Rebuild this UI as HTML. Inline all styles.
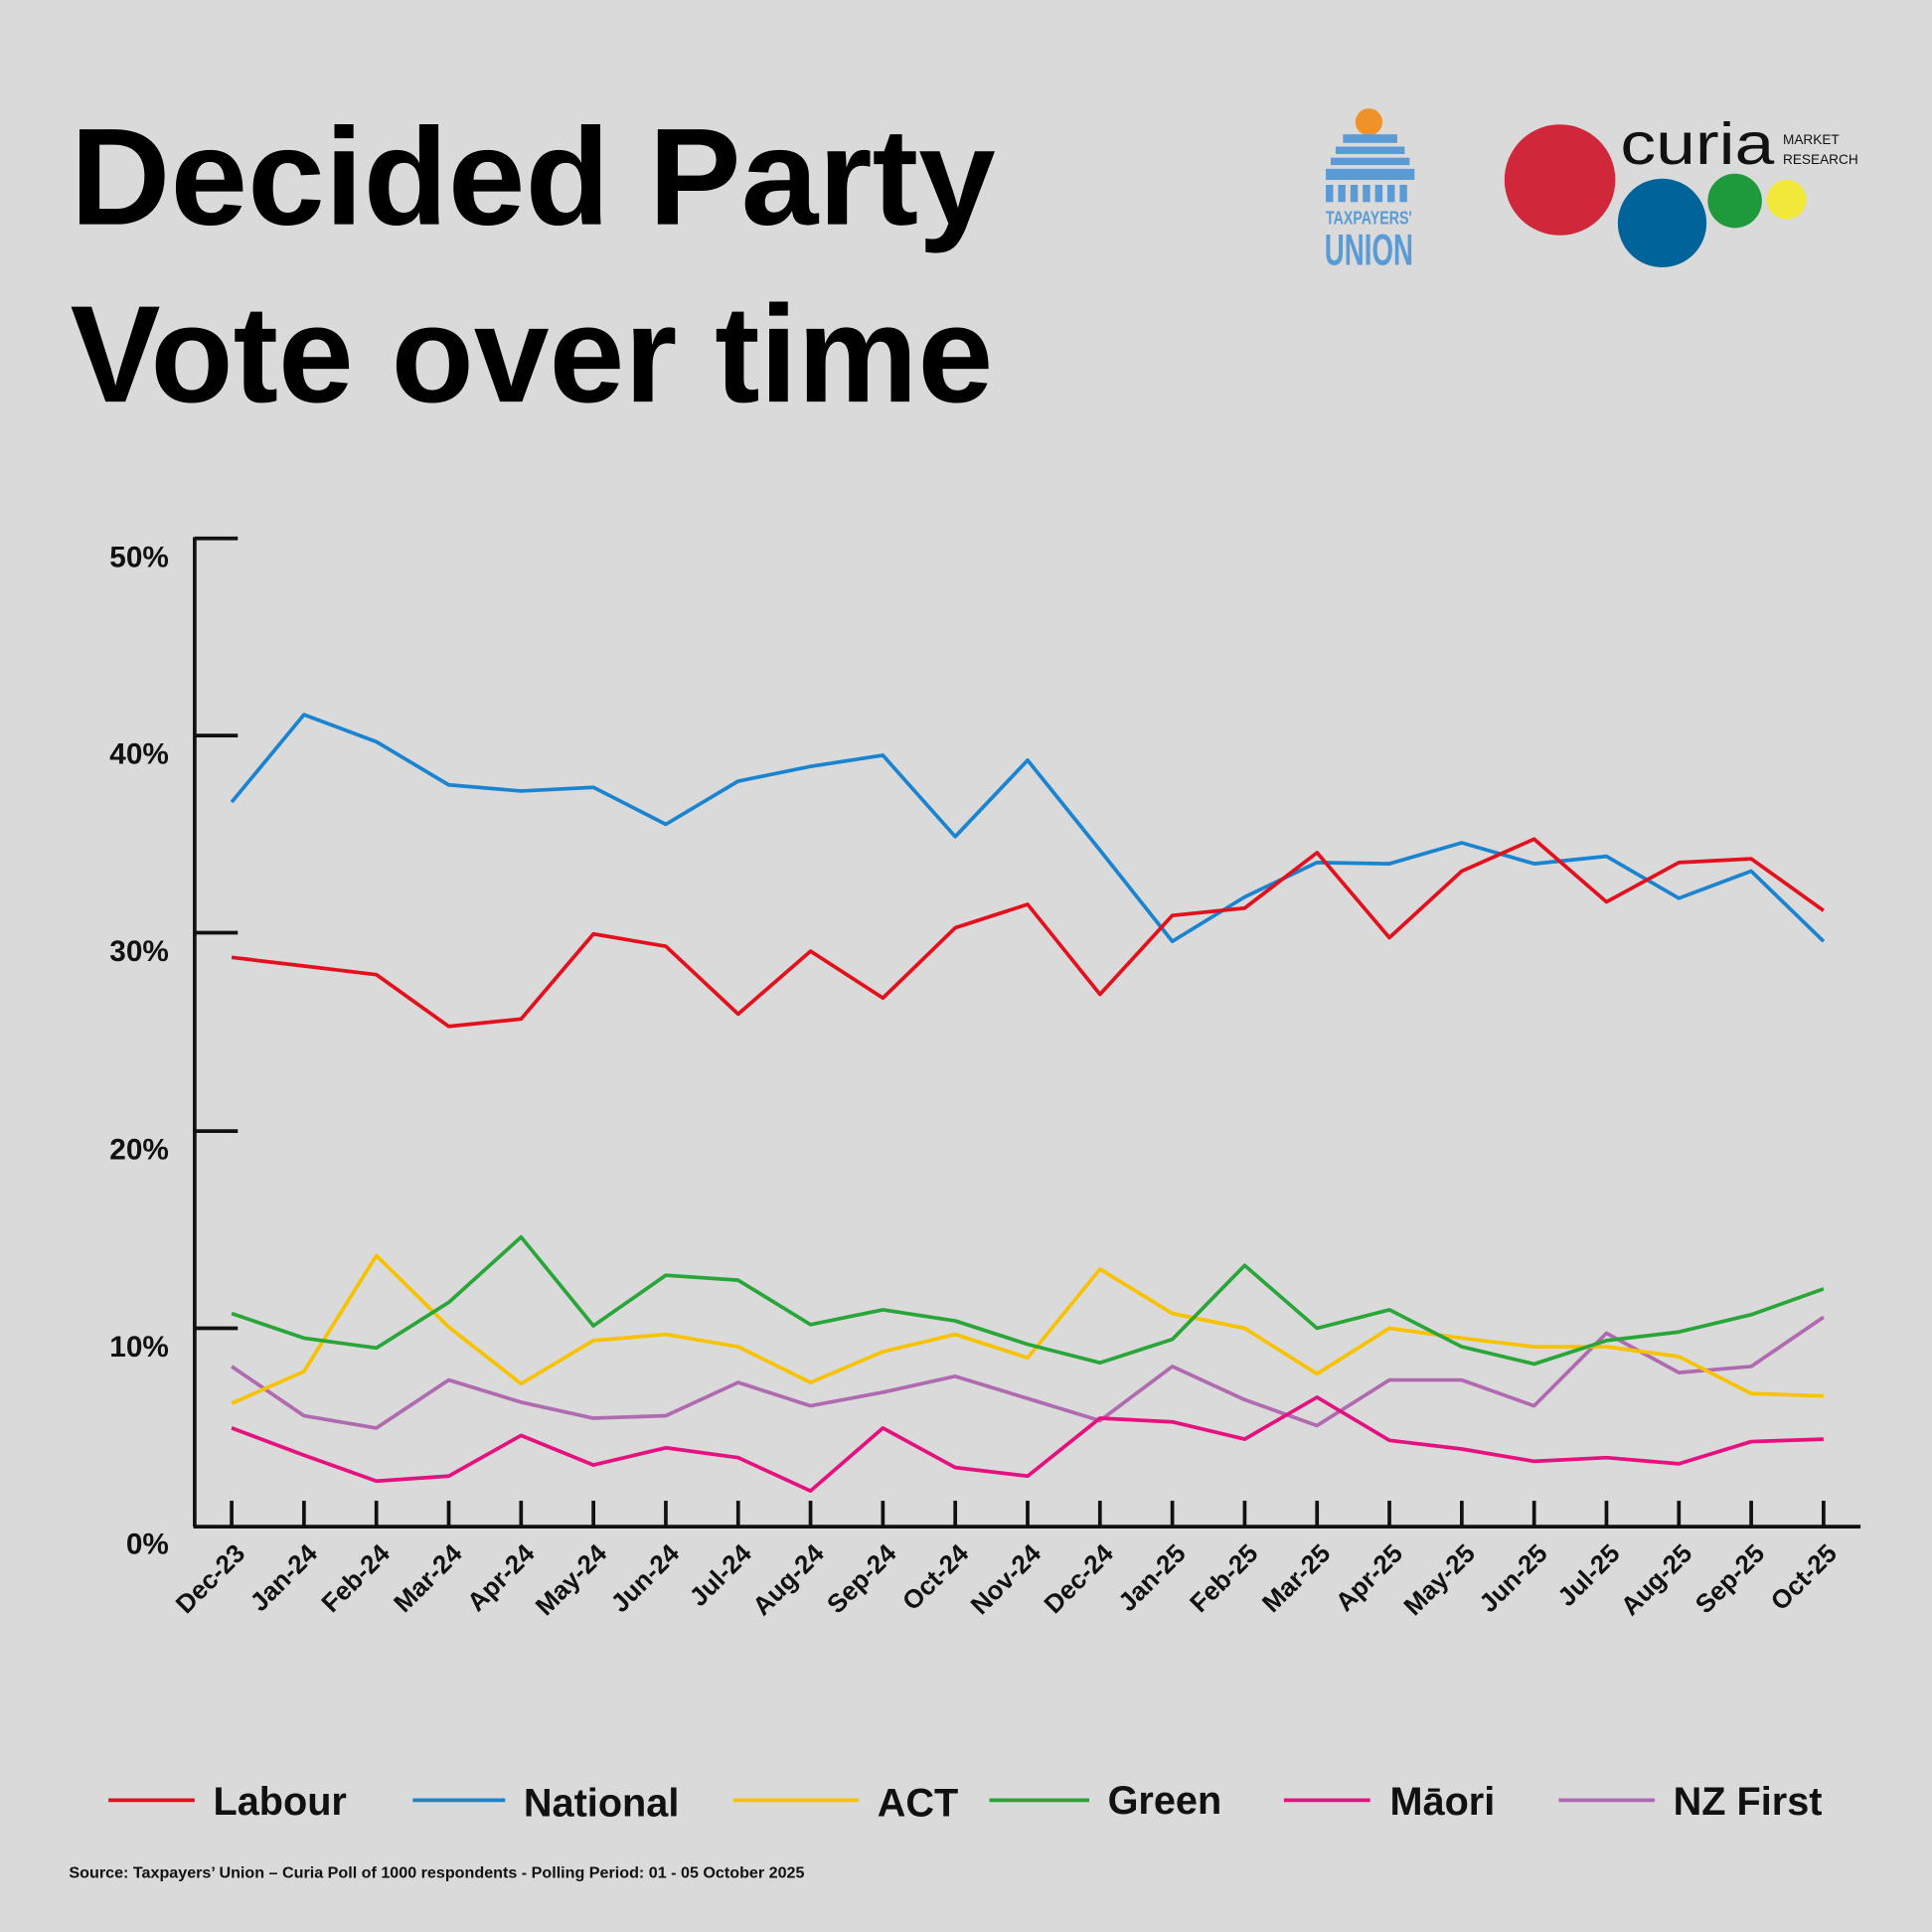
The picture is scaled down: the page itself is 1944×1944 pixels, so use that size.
<!DOCTYPE html>
<html><head><meta charset="utf-8"><style>
html,body{margin:0;padding:0;background:#dadada;}
svg{display:block;font-family:"Liberation Sans",Arial,sans-serif;}
</style></head><body>
<svg width="1944" height="1944" viewBox="0 0 1568 1568" xmlns="http://www.w3.org/2000/svg">
<rect width="1568" height="1568" fill="#dadada"/>
<text x="57" y="182" font-size="112" font-weight="bold" textLength="751" lengthAdjust="spacingAndGlyphs">Decided Party</text>
<text x="57" y="326" font-size="112" font-weight="bold" textLength="749" lengthAdjust="spacingAndGlyphs">Vote over time</text>
<!-- Taxpayers union logo -->
<g fill="#5b9bd5">
<circle cx="1111" cy="99" r="11" fill="#f0922b"/>
<rect x="1090" y="109" width="44" height="7"/>
<rect x="1084" y="119" width="56" height="6"/>
<rect x="1080" y="128" width="64" height="6"/>
<rect x="1076" y="137" width="72" height="9"/>
<g><rect x="1076" y="150" width="6" height="14"/><rect x="1086" y="150" width="6" height="14"/><rect x="1096" y="150" width="6" height="14"/><rect x="1106" y="150" width="6" height="14"/><rect x="1116" y="150" width="6" height="14"/><rect x="1126" y="150" width="6" height="14"/><rect x="1136" y="150" width="6" height="14"/></g>
<text x="1111" y="182" font-size="15" font-weight="bold" text-anchor="middle" textLength="70" lengthAdjust="spacingAndGlyphs">TAXPAYERS'</text>
<text x="1111" y="215" font-size="36" font-weight="bold" text-anchor="middle" textLength="72" lengthAdjust="spacingAndGlyphs">UNION</text>
</g>
<!-- curia -->
<circle cx="1266" cy="146" r="45" fill="#d0273a"/>
<circle cx="1349" cy="181" r="36" fill="#00649a"/>
<circle cx="1408" cy="163" r="22" fill="#1e9a3c"/>
<circle cx="1450" cy="162" r="16" fill="#f2e83a"/>
<text x="1315" y="133" font-size="48" fill="#111" textLength="125" lengthAdjust="spacingAndGlyphs">curia</text>
<text x="1447" y="117" font-size="11" fill="#111">MARKET</text>
<text x="1447" y="133" font-size="11" fill="#111">RESEARCH</text>
<!-- axes -->
<g stroke="#111" stroke-width="3" fill="none">
<line x1="158" y1="436" x2="158" y2="1239"/>
<line x1="157" y1="1239" x2="1510" y2="1239"/>
<line x1="158" y1="437" x2="193" y2="437"/>
<line x1="158" y1="597" x2="193" y2="597"/>
<line x1="158" y1="757" x2="193" y2="757"/>
<line x1="158" y1="918" x2="193" y2="918"/>
<line x1="158" y1="1078" x2="193" y2="1078"/>
</g>
<g font-size="24" font-weight="bold" text-anchor="end" fill="#111">
<text x="137" y="460">50%</text><text x="137" y="620">40%</text><text x="137" y="780">30%</text><text x="137" y="941">20%</text><text x="137" y="1101">10%</text><text x="137" y="1261">0%</text>
</g>
<g id="ticks" stroke="#111" stroke-width="3"></g>
<g id="xl" font-size="21" font-weight="bold" fill="#111" text-anchor="end"></g>
<g id="series" fill="none" stroke-width="3" stroke-linejoin="round"></g>
<!-- legend -->
<g stroke-width="3">
<line x1="88" y1="1461" x2="158" y2="1461" stroke="#e3101e"/>
<line x1="335" y1="1461" x2="410" y2="1461" stroke="#1b84d0"/>
<line x1="595" y1="1461" x2="697" y2="1461" stroke="#f7c200"/>
<line x1="803" y1="1461" x2="884" y2="1461" stroke="#2aa53a"/>
<line x1="1042" y1="1461" x2="1112" y2="1461" stroke="#e5117f"/>
<line x1="1265" y1="1461" x2="1343" y2="1461" stroke="#b06bb0"/>
</g>
<g font-size="32" font-weight="bold" fill="#111">
<text x="173" y="1473">Labour</text><text x="425" y="1474">National</text><text x="712" y="1474">ACT</text><text x="899" y="1472">Green</text><text x="1128" y="1473">Māori</text><text x="1358" y="1473">NZ First</text>
</g>
<text x="56" y="1524" font-size="13" font-weight="bold" fill="#111">Source: Taxpayers’ Union – Curia Poll of 1000 respondents -  Polling Period: 01 - 05 October 2025</text>
<script>
var ns="http://www.w3.org/2000/svg";
var m=["Dec-23","Jan-24","Feb-24","Mar-24","Apr-24","May-24","Jun-24","Jul-24","Aug-24","Sep-24","Oct-24","Nov-24","Dec-24","Jan-25","Feb-25","Mar-25","Apr-25","May-25","Jun-25","Jul-25","Aug-25","Sep-25","Oct-25"];
function X(i){return 188+i*(1480-188)/22;}
var t=document.getElementById("ticks"),xl=document.getElementById("xl");
m.forEach(function(s,i){var l=document.createElementNS(ns,"line");l.setAttribute("x1",X(i));l.setAttribute("x2",X(i));l.setAttribute("y1",1218);l.setAttribute("y2",1239);t.appendChild(l);
var tx=document.createElementNS(ns,"text");var x=X(i)+12,y=1262;tx.setAttribute("x",x);tx.setAttribute("y",y);tx.setAttribute("transform","rotate(-45 "+x+" "+y+")");tx.textContent=s;xl.appendChild(tx);});
var S=[
["#b06bb0",[1109,1149,1159,1120,1138,1151,1149,1122,1141,1130,1117,1135,1153,1109,1136,1157,1120,1120,1141,1082,1114,1109,1069]],
["#e5117f",[1159,1181,1202,1198,1165,1189,1175,1183,1210,1159,1191,1198,1151,1154,1168,1134,1169,1176,1186,1183,1188,1170,1168]],
["#f7c200",[1139,1113,1019,1077,1123,1088,1083,1093,1122,1097,1083,1102,1030,1066,1078,1115,1078,1086,1093,1093,1101,1131,1133]],
["#2aa53a",[1066,1086,1094,1057,1004,1076,1035,1039,1075,1063,1072,1091,1106,1087,1027,1078,1063,1093,1107,1088,1081,1067,1046]],
["#1b84d0",[651,580,602,637,642,639,669,634,622,613,679,617,690,764,728,700,701,684,701,695,729,707,764]],
["#e3101e",[777,784,791,833,827,758,768,823,772,810,753,734,807,743,737,692,761,707,681,732,700,697,739]]];
var g=document.getElementById("series");
S.forEach(function(s){var p=document.createElementNS(ns,"polyline");p.setAttribute("stroke",s[0]);p.setAttribute("points",s[1].map(function(y,i){return X(i)+","+y;}).join(" "));g.appendChild(p);});
</script>
</svg>
</body></html>
